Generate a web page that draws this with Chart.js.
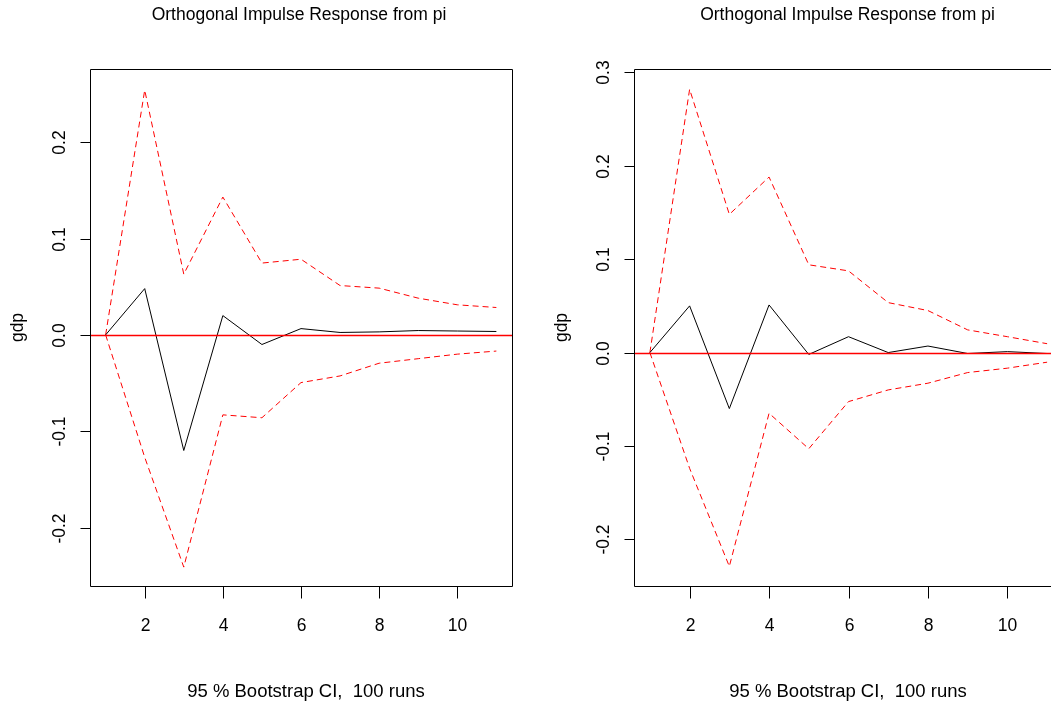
<!DOCTYPE html>
<html>
<head>
<meta charset="utf-8">
<script src="https://cdn.jsdelivr.net/npm/chart.js@4/dist/chart.umd.min.js"></script>
<style>
  html, body { margin: 0; padding: 0; background: #fff; }
  body { width: 1051px; height: 710px; overflow: hidden; position: relative; }
  .panel { position: absolute; top: 0; }
</style>
</head>
<body>
<div class="panel" id="p1" style="left:0px;width:525px;height:710px;"><canvas id="c1"></canvas></div>
<div class="panel" id="p2" style="left:525px;width:560px;height:710px;"><canvas id="c2"></canvas></div>
<script>
// ---- data ----
const horizons = [1, 2, 3, 4, 5, 6, 7, 8, 9, 10, 11];

// left panel
const irfLeft   = [0, 0.048, -0.120, 0.020, -0.010, 0.0065, 0.0025, 0.0031, 0.0045, 0.0040, 0.0035];
const upperLeft = [0, 0.254, 0.063, 0.143, 0.0745, 0.0785, 0.0512, 0.0485, 0.0381, 0.0312, 0.0284];
const lowerLeft = [0, -0.127, -0.241, -0.083, -0.086, -0.0495, -0.0426, -0.0294, -0.0247, -0.0200, -0.0168];

// right panel
const irfRight   = [0, 0.050, -0.060, 0.051, -0.002, 0.017, 0.000, 0.007, -0.001, 0.001, -0.001];
const upperRight = [0, 0.282, 0.148, 0.188, 0.094, 0.0875, 0.0535, 0.045, 0.0243, 0.017, 0.0095];
const lowerRight = [0, -0.124, -0.229, -0.065, -0.103, -0.0525, -0.040, -0.0328, -0.0214, -0.0167, -0.0103];

// tick labels
const xTicks = [2, 4, 6, 8, 10];
const xTickLabels = ['2', '4', '6', '8', '10'];
const yTicksLeft = [-0.2, -0.1, 0, 0.1, 0.2];
const yTickLabelsLeft = ['-0.2', '-0.1', '0.0', '0.1', '0.2'];
const yTicksRight = [-0.2, -0.1, 0, 0.1, 0.2, 0.3];
const yTickLabelsRight = ['-0.2', '-0.1', '0.0', '0.1', '0.2', '0.3'];

const titleText = 'Orthogonal Impulse Response from pi';
const yLabel = 'gdp';
const xLabel = '95 % Bootstrap CI,  100 runs';

const FONT = '"Liberation Sans", Arial, Helvetica, sans-serif';

function pts(ys) { return horizons.map((h, i) => ({ x: h, y: ys[i] })); }

// R-like frame: zero line (abline), box, tick marks, labels, titles
const rFrame = {
  id: 'rFrame',
  afterDatasetsDraw(chart) {
    const { ctx, chartArea: a } = chart;
    const ys = chart.scales.y;
    const y0 = Math.round(ys.getPixelForValue(0)) + 0.5;
    ctx.save();
    ctx.beginPath();
    ctx.strokeStyle = '#ff0000';
    ctx.lineWidth = 1.6;
    ctx.setLineDash([]);
    ctx.moveTo(a.left, y0);
    ctx.lineTo(a.right, y0);
    ctx.stroke();
    ctx.restore();
  },
  afterDraw(chart) {
    const o = chart.options.plugins.rFrame;
    const { ctx, chartArea: a } = chart;
    const xs = chart.scales.x, ys = chart.scales.y;
    ctx.save();
    ctx.setLineDash([]);
    ctx.strokeStyle = '#000';
    ctx.lineWidth = 1;
    const L = Math.round(a.left) + 0.5, R = Math.round(a.right) + 0.5;
    const T = Math.round(a.top) + 0.5, B = Math.round(a.bottom) + 0.5;
    ctx.beginPath();
    ctx.rect(L, T, R - L, B - T);
    ctx.stroke();
    // x ticks
    ctx.fillStyle = '#000';
    ctx.font = '17.5px ' + FONT;
    ctx.textAlign = 'center';
    ctx.textBaseline = 'middle';
    o.xTicks.forEach((v, i) => {
      const px = Math.round(xs.getPixelForValue(v)) + 0.5;
      ctx.beginPath();
      ctx.moveTo(px, B);
      ctx.lineTo(px, B + 12);
      ctx.stroke();
      ctx.fillText(o.xTickLabels[i], px, 626);
    });
    // y ticks
    o.yTicks.forEach((v, i) => {
      const py = Math.round(ys.getPixelForValue(v)) + 0.5;
      ctx.beginPath();
      ctx.moveTo(L - 10, py);
      ctx.lineTo(L, py);
      ctx.stroke();
      ctx.save();
      ctx.translate(L - 30, py);
      ctx.rotate(-Math.PI / 2);
      ctx.fillText(o.yTickLabels[i], 0, 0);
      ctx.restore();
    });
    // y axis label
    ctx.save();
    ctx.translate(L - 72, (a.top + a.bottom) / 2);
    ctx.rotate(-Math.PI / 2);
    ctx.fillText(o.yLabel, 0, 0);
    ctx.restore();
    // title & x label
    ctx.fillText(o.title, o.titleX, 15);
    ctx.font = '18.5px ' + FONT;
    ctx.fillText(o.xLabel, o.xLabelX, 692);
    ctx.restore();
  }
};

function makeChart(canvasId, w, irf, upper, lower, yMin, yMax, pad, yT, yTL, titleX, xLabelX) {
  const canvas = document.getElementById(canvasId);
  canvas.width = w; canvas.height = 710;
  canvas.style.width = w + 'px'; canvas.style.height = '710px';
  const dashed = { borderColor: '#ff0000', borderWidth: 1, borderDash: [6, 4], pointRadius: 0, fill: false, tension: 0 };
  return new Chart(canvas, {
    type: 'line',
    data: {
      datasets: [
        { label: 'irf', data: pts(irf), borderColor: '#000000', borderWidth: 1, pointRadius: 0, fill: false, tension: 0 },
        Object.assign({ label: 'upper', data: pts(upper) }, dashed),
        Object.assign({ label: 'lower', data: pts(lower) }, dashed)
      ]
    },
    options: {
      responsive: false,
      animation: false,
      devicePixelRatio: 1,
      layout: { padding: pad },
      plugins: {
        legend: { display: false },
        tooltip: { enabled: false },
        rFrame: { xTicks: xTicks, xTickLabels: xTickLabels, yTicks: yT, yTickLabels: yTL,
                  yLabel: yLabel, title: titleText, xLabel: xLabel, titleX: titleX, xLabelX: xLabelX }
      },
      scales: {
        x: { type: 'linear', min: 0.6, max: 11.4, display: false },
        y: { type: 'linear', min: yMin, max: yMax, display: false }
      }
    },
    plugins: [rFrame]
  });
}

makeChart('c1', 525, irfLeft, upperLeft, lowerLeft, -0.2606, 0.2759,
          { left: 90, right: 13, top: 69, bottom: 124 }, yTicksLeft, yTickLabelsLeft, 299, 306);
makeChart('c2', 560, irfRight, upperRight, lowerRight, -0.25, 0.3037,
          { left: 109, right: 22, top: 69, bottom: 124 }, yTicksRight, yTickLabelsRight, 847.5 - 525, 848 - 525);
</script>
</body>
</html>
